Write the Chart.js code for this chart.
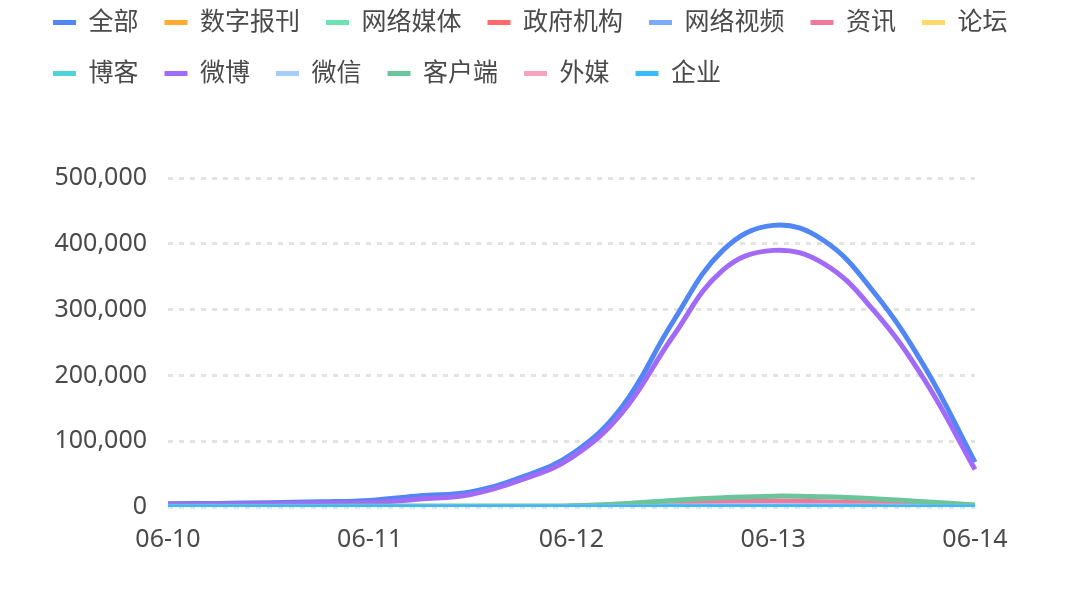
<!DOCTYPE html>
<html>
<head>
<meta charset="utf-8">
<script src="https://cdn.jsdelivr.net/npm/chart.js@4/dist/chart.umd.min.js"></script>
<style>
  html, body { margin: 0; padding: 0; background: #fff; }
  #wrap { width: 1080px; height: 602px; }
</style>
</head>
<body>
<div id="wrap"><canvas id="trendChart" width="1080" height="602"></canvas></div>
<script>
// time points, every 6 hours
const timeLabels = [
    '06-10 00', '06-10 06', '06-10 12', '06-10 18',
    '06-11 00', '06-11 06', '06-11 12', '06-11 18',
    '06-12 00', '06-12 06', '06-12 12', '06-12 18',
    '06-13 00', '06-13 06', '06-13 12', '06-13 18',
    '06-14 00'
];

const seriesNames = ['全部', '数字报刊', '网络媒体', '政府机构', '网络视频', '资讯', '论坛',
    '博客', '微博', '微信', '客户端', '外媒', '企业'];

const seriesColors = ['#5087f5', '#ffab2e', '#6ee2b3', '#ff6b6b', '#7baaf7', '#f2789b', '#ffda6a',
    '#4fd4de', '#a16bf7', '#a6ccff', '#6cc49a', '#f8a3bd', '#36bcfa'];

const allValues      = [5000, 5500, 6500, 8000, 10000, 17000, 23000, 45000, 80000, 152000, 280000, 390000, 428000, 405000, 326000, 213000, 68000];
const paperValues    = [0, 0, 0, 0, 0, 0, 0, 0, 0, 50, 100, 150, 200, 150, 100, 50, 0];
const webMediaValues = [200, 200, 250, 300, 300, 400, 400, 500, 600, 800, 1000, 1200, 1300, 1200, 1000, 700, 300];
const govValues      = [0, 0, 0, 0, 0, 0, 0, 0, 50, 100, 150, 200, 200, 150, 100, 50, 0];
const videoValues    = [50, 50, 50, 100, 100, 100, 150, 200, 300, 400, 500, 600, 600, 500, 400, 300, 100];
const newsValues     = [300, 300, 300, 400, 500, 500, 600, 700, 1000, 3000, 6000, 8500, 9000, 8000, 6000, 4000, 1500];
const forumValues    = [0, 0, 0, 0, 0, 0, 0, 50, 100, 100, 150, 200, 200, 150, 100, 50, 0];
const blogValues     = [0, 0, 0, 0, 0, 0, 0, 0, 0, 50, 50, 100, 100, 50, 50, 0, 0];
const weiboValues    = [4000, 4500, 5000, 6000, 7000, 12000, 19000, 41000, 75000, 143000, 258000, 360000, 390000, 370000, 298000, 193000, 57000];
const wechatValues   = [200, 200, 300, 300, 400, 500, 600, 700, 900, 1200, 1500, 1800, 2000, 1800, 1500, 1000, 400];
const clientValues   = [1000, 1000, 1000, 1200, 1500, 1500, 1500, 1500, 2000, 5000, 10000, 14000, 16500, 15500, 12500, 8000, 3000];
const foreignValues  = [0, 0, 0, 0, 0, 50, 50, 100, 100, 200, 300, 400, 400, 300, 200, 100, 50];
const companyValues  = [50, 50, 50, 50, 50, 50, 100, 100, 100, 150, 200, 250, 300, 250, 200, 150, 50];

const yTicks = [0, 100000, 200000, 300000, 400000, 500000];

const seriesValues = [allValues, paperValues, webMediaValues, govValues, videoValues, newsValues, forumValues,
    blogValues, weiboValues, wechatValues, clientValues, foreignValues, companyValues];

const datasets = seriesNames.map((name, i) => ({
    label: name,
    data: seriesValues[i],
    borderColor: seriesColors[i],
    backgroundColor: seriesColors[i],
    borderWidth: 5,
    pointRadius: 0,
    pointHoverRadius: 0,
    pointStyle: 'line',
    tension: 0.4,
    fill: false,
    order: -i   // later series drawn on top
}));

const textColor = '#4a4a4a';
const fontFamily = "'Noto Sans', 'Noto Sans CJK SC', sans-serif";

// legend sits high, leave empty space below it
const legendSpacer = {
    id: 'legendSpacer',
    beforeInit(chart) {
        const fit = chart.legend.fit;
        chart.legend.fit = function () {
            fit.call(this);
            this.height += 82;
        };
    }
};

new Chart(document.getElementById('trendChart'), {
    type: 'line',
    data: { labels: timeLabels, datasets: datasets },
    options: {
        responsive: false,
        animation: false,
        layout: { padding: { top: -16, left: 27, right: 0, bottom: 37 } },
        plugins: {
            legend: {
                position: 'top',
                align: 'start',
                labels: {
                    usePointStyle: true,
                    pointStyleWidth: 23,
                    padding: 26,
                    color: textColor,
                    font: { size: 25, family: fontFamily },
                    sort: (a, b) => a.datasetIndex - b.datasetIndex
                }
            },
            tooltip: { enabled: false }
        },
        scales: {
            x: {
                grid: { display: false },
                border: { display: false },
                ticks: {
                    autoSkip: false,
                    maxRotation: 0,
                    padding: 10,
                    color: textColor,
                    font: { size: 25, family: fontFamily },
                    callback: function (value, index) {
                        return index % 4 === 0 ? timeLabels[index].slice(0, 5) : '';
                    }
                }
            },
            y: {
                min: yTicks[0],
                max: yTicks[yTicks.length - 1],
                afterBuildTicks: scale => { scale.ticks = yTicks.map(v => ({ value: v })); },
                afterFit: scale => { scale.width = 141; },
                grid: {
                    color: '#e3e3e3',
                    lineWidth: 3,
                    drawTicks: false
                },
                border: { display: false, dash: [5, 6] },
                ticks: {
                    padding: 21,
                    color: textColor,
                    font: { size: 25, family: fontFamily },
                    callback: v => v.toLocaleString('en-US')
                }
            },
            yRight: {
                type: 'linear',
                position: 'right',
                grid: { display: false },
                border: { display: false },
                ticks: { display: false },
                afterFit: scale => { scale.width = 105; }
            }
        }
    },
    plugins: [legendSpacer]
});
</script>
</body>
</html>
